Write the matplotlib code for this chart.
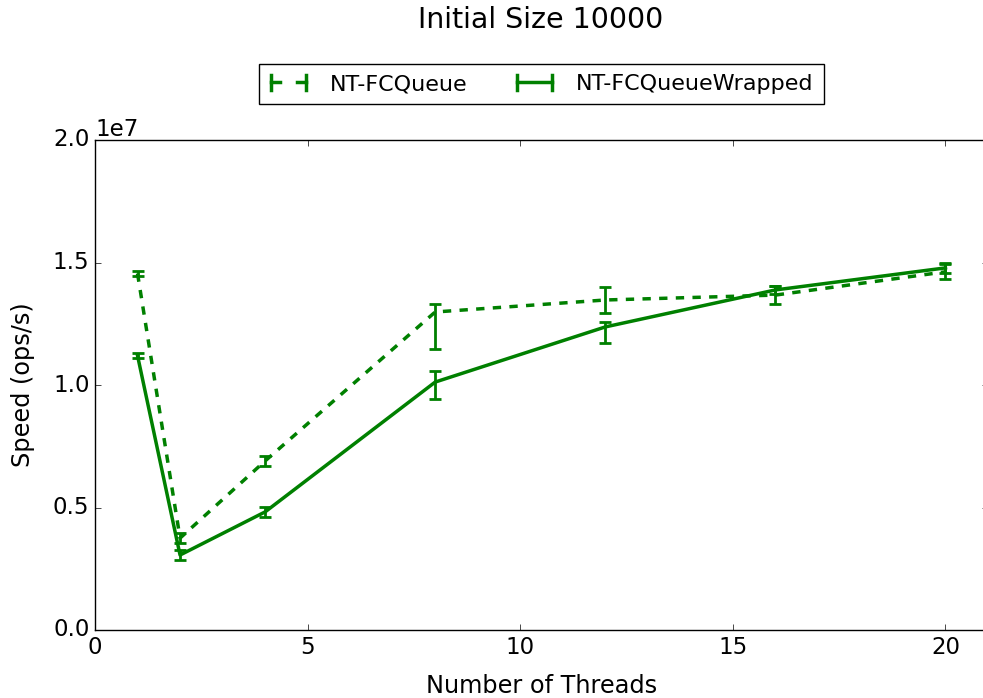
import numpy as np
import matplotlib
matplotlib.use("Agg")
import matplotlib.pyplot as plt
from matplotlib.legend_handler import HandlerBase
from matplotlib.lines import Line2D

plt.style.use("classic")

threads = [1, 2, 4, 8, 12, 16, 20]

# NT-FCQueue (dashed)
fc_speed = [1.455e7, 0.375e7, 0.690e7, 1.298e7, 1.347e7, 1.367e7, 1.462e7]
fc_err_low = [0.010e7, 0.020e7, 0.020e7, 0.151e7, 0.053e7, 0.037e7, 0.030e7]
fc_err_high = [0.010e7, 0.020e7, 0.020e7, 0.033e7, 0.053e7, 0.037e7, 0.030e7]

# NT-FCQueueWrapped (solid)
wr_speed = [1.120e7, 0.306e7, 0.482e7, 1.012e7, 1.237e7, 1.388e7, 1.478e7]
wr_err_low = [0.010e7, 0.020e7, 0.020e7, 0.069e7, 0.066e7, 0.015e7, 0.020e7]
wr_err_high = [0.010e7, 0.020e7, 0.020e7, 0.045e7, 0.020e7, 0.015e7, 0.020e7]


class CapLineHandler(HandlerBase):
    # old-style errorbar legend entry: line with a cap at each end
    def create_artists(self, legend, orig_handle, xdescent, ydescent,
                       width, height, fontsize, trans):
        ls = orig_handle.get_linestyle()
        y = height / 2 - ydescent
        x0, x1 = -xdescent + 1, width - xdescent - 1
        if ls == "--":
            seg = (x1 - x0) * 0.25
            lines = [Line2D([x0, x0 + seg], [y, y], color="g", lw=2.5, transform=trans),
                     Line2D([x1 - seg, x1], [y, y], color="g", lw=2.5, transform=trans)]
        else:
            lines = [Line2D([x0, x1], [y, y], color="g", lw=2.5, transform=trans)]
        caps = [Line2D([x, x], [y - height * 0.5, y + height * 0.5], color="g",
                       lw=2.5, transform=trans) for x in (x0, x1)]
        return lines + caps


fig = plt.figure(figsize=(9.83, 6.98), dpi=100, facecolor="white")
ax = fig.add_axes([95 / 983, 1 - 630 / 698, 893 / 983, 490 / 698])

ax.errorbar(threads, fc_speed, yerr=[fc_err_low, fc_err_high], color="g",
            ls="--", lw=2.5, elinewidth=2, capsize=4, capthick=2)
ax.errorbar(threads, wr_speed, yerr=[wr_err_low, wr_err_high], color="g",
            ls="-", lw=2.5, elinewidth=2, capsize=4, capthick=2)

ax.set_xlim(0, 21)
ax.set_ylim(0, 2.0e7)
ax.set_xlabel("Number of Threads", fontsize=17.3)
ax.set_ylabel("Speed (ops/s)", fontsize=17.3)
ax.xaxis.set_label_coords(0.5, -0.09)
ax.yaxis.set_label_coords(-0.067, 0.5)
ax.tick_params(labelsize=16.5)
ax.yaxis.get_offset_text().set_fontsize(16.5)

fig.text(541 / 983, 1 - 20 / 698, "Initial Size 10000", fontsize=20.5,
         ha="center", va="center")

h1 = Line2D([], [], ls="--")
h2 = Line2D([], [], ls="-")
ax.legend([h1, h2], ["NT-FCQueue", "NT-FCQueueWrapped"],
          handler_map={Line2D: CapLineHandler()},
          loc="lower center", bbox_to_anchor=(0.5, 1.073), ncol=2,
          fontsize=16, frameon=True, borderpad=0.45, borderaxespad=0,
          columnspacing=2.2, handlelength=1.7, handletextpad=1.0)

fig.savefig("out.png", dpi=100, facecolor="white")
